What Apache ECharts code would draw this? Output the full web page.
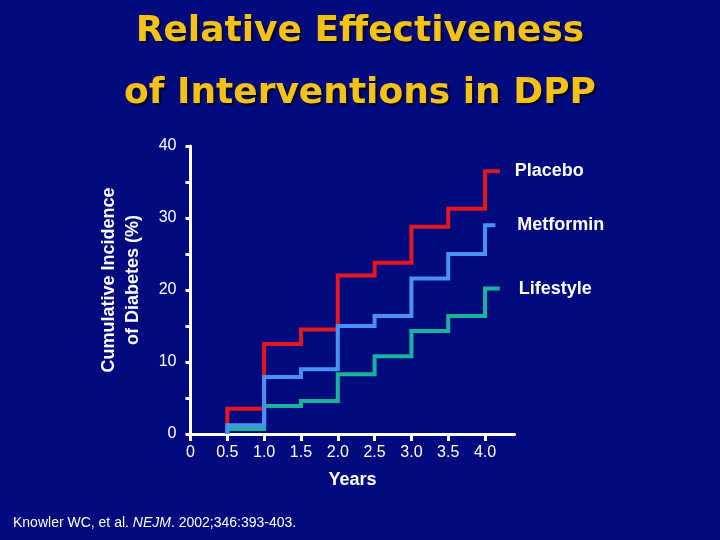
<!DOCTYPE html>
<html>
<head>
<meta charset="utf-8">
<script src="https://cdn.jsdelivr.net/npm/echarts@6/dist/echarts.min.js"></script>
<style>
html,body{margin:0;padding:0;background:#000a7f;}
#chart{width:720px;height:540px;}
</style>
</head>
<body>
<div id="chart"></div>
<script>
// ---- data ----
const titleLines = ['Relative Effectiveness', 'of Interventions in DPP'];
const seriesNames = ['Placebo', 'Metformin', 'Lifestyle'];
const stepYears = [0.5, 1.0, 1.5, 2.0, 2.5, 3.0, 3.5, 4.0];
const placebo   = [3.5, 12.5, 14.5, 22.0, 23.8, 28.8, 31.3, 36.5];
const metformin = [1.2, 7.9, 9.0, 15.0, 16.4, 21.6, 25.0, 29.0];
const lifestyle = [0.7, 3.9, 4.6, 8.3, 10.8, 14.3, 16.4, 20.2];
const lastYear  = [4.2, 4.14, 4.2];
const xTickValues = [0, 0.5, 1.0, 1.5, 2.0, 2.5, 3.0, 3.5, 4.0];
const xTickLabels = ['0', '0.5', '1.0', '1.5', '2.0', '2.5', '3.0', '3.5', '4.0'];
const yTickValues = [0, 10, 20, 30, 40];
const xName = 'Years';
const yName = 'Cumulative Incidence\nof Diabetes (%)';

// build step points: start at 0, then level after each jump held until next jump
function stepData(values, endYear) {
  const pts = [[stepYears[0], 0]];
  for (let i = 0; i < values.length; i++) {
    const nx = i + 1 < stepYears.length ? stepYears[i + 1] : endYear;
    pts.push([nx, values[i]]);
  }
  return pts;
}

const colors = ['#e5161e', '#4a92f2', '#17b39c'];
const labelDist = [15, 22, 19];
const zs = [2, 4, 3];
const allValues = [placebo, metformin, lifestyle];

const chart = echarts.init(document.getElementById('chart'));
const txt = '#ffffff';
const ff = 'Liberation Sans, Arial, sans-serif';

chart.setOption({
  backgroundColor: '#000a7f',
  animation: false,
  title: {
    text: titleLines.join('\n'),
    left: 'center',
    top: 1,
    padding: 0,
    textStyle: {
      fontFamily: 'DejaVu Sans',
      fontWeight: 'bold',
      fontSize: 36,
      lineHeight: 62,
      color: '#f4c214',
      textShadowColor: 'rgba(0,0,0,0.75)',
      textShadowBlur: 2,
      textShadowOffsetX: 2,
      textShadowOffsetY: 2
    }
  },
  grid: { left: 190.5, right: 205.5, top: 146, bottom: 106 },
  xAxis: {
    type: 'value',
    min: 0, max: 4.4,
    name: xName,
    nameLocation: 'middle',
    nameGap: 37,
    nameTextStyle: { color: txt, fontFamily: ff, fontWeight: 'bold', fontSize: 18 },
    splitLine: { show: false },
    axisLine: { lineStyle: { color: txt, width: 3 } },
    axisTick: { show: true, length: 7, customValues: xTickValues, lineStyle: { color: txt, width: 3 } },
    axisLabel: {
      customValues: xTickValues,
      color: txt, fontFamily: ff, fontSize: 16, margin: 11,
      formatter: function (v) { return xTickLabels[xTickValues.indexOf(v)]; }
    }
  },
  yAxis: {
    type: 'value',
    min: 0, max: 40, interval: 5,
    splitLine: { show: false },
    axisLine: { show: true, lineStyle: { color: txt, width: 3 } },
    axisTick: { show: true, length: 5, lineStyle: { color: txt, width: 3 } },
    axisLabel: {
      customValues: yTickValues,
      color: txt, fontFamily: ff, fontSize: 16, margin: 14
    }
  },
  graphic: [
    {
      type: 'text',
      x: 121, y: 280,
      rotation: Math.PI / 2,
      style: {
        text: yName,
        fill: txt,
        font: 'bold 18px ' + ff,
        lineHeight: 24,
        align: 'center',
        verticalAlign: 'middle'
      }
    },
    {
      type: 'text',
      left: 13, top: 516,
      style: {
        rich: {
          n: { fill: txt, font: '14px ' + ff },
          i: { fill: txt, font: 'italic 14px ' + ff }
        },
        text: '{n|Knowler WC, et al. }{i|NEJM}{n|. 2002;346:393-403.}'
      }
    }
  ],
  series: seriesNames.map(function (name, k) {
    return {
      name: name,
      type: 'line',
      step: 'start',
      z: zs[k],
      showSymbol: false,
      symbol: 'none',
      data: stepData(allValues[k], lastYear[k]),
      lineStyle: { color: colors[k], width: 4, cap: 'butt', join: 'miter' },
      itemStyle: { color: colors[k] },
      endLabel: {
        show: true,
        formatter: name,
        distance: labelDist[k],
        color: txt,
        fontFamily: ff,
        fontWeight: 'bold',
        fontSize: 18
      }
    };
  })
});
</script>
</body>
</html>
